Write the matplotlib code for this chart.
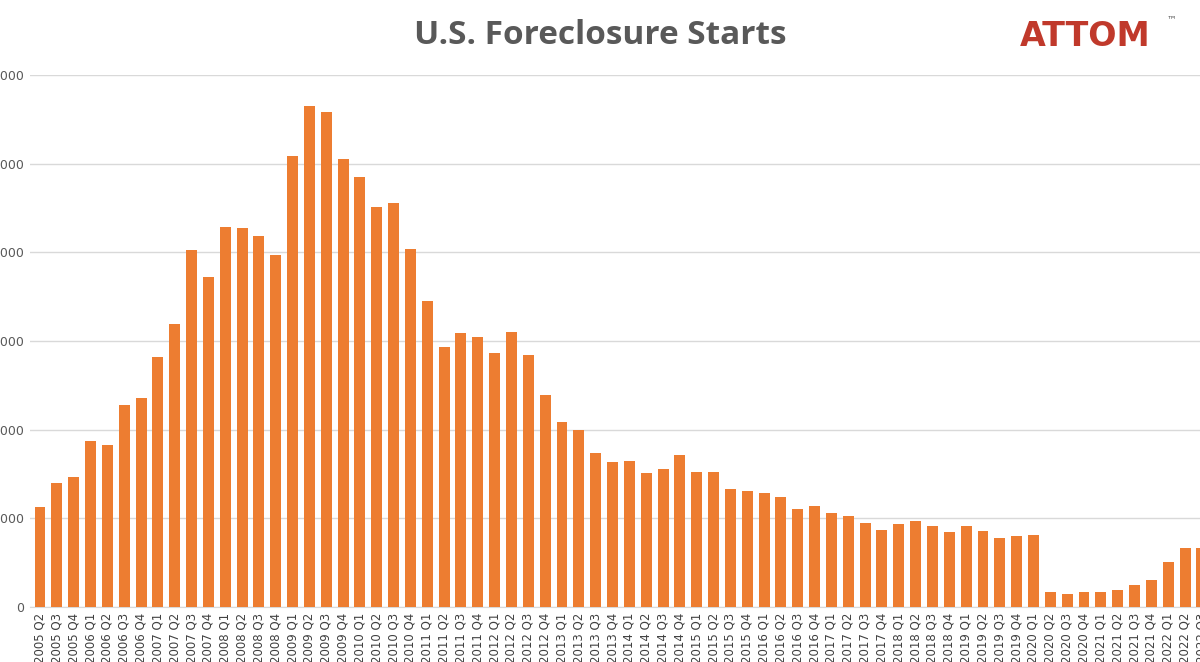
import matplotlib
matplotlib.use("Agg")
import matplotlib.pyplot as plt

years = list(range(2005, 2023))
quarters = []
for y in years:
    for q in (1, 2, 3, 4):
        quarters.append(f"{y} Q{q}")
quarters = quarters[1:71]  # 2005 Q2 .. 2022 Q3

values = [56.4, 69.9, 73.3, 93.6, 91.3, 113.9, 117.8, 140.9, 159.5, 201.2, 186.0,
          214.2, 213.6, 209.1, 198.4, 254.2, 282.4, 279.0, 252.5, 242.4, 225.5, 227.7,
          201.8, 172.5, 146.6, 154.5, 152.2, 143.2, 155.0, 142.1, 119.5, 104.3, 99.8,
          86.8, 81.7, 82.3, 75.5, 77.8, 85.7, 76.1, 76.1, 66.5, 65.4, 64.3, 62.0, 55.2,
          56.9, 53.0, 51.3, 47.4, 43.4, 46.8, 48.5, 45.7, 42.3, 45.7, 42.8, 38.9, 40.0,
          40.6, 8.5, 7.3, 8.5, 8.5, 9.6, 12.4, 15.2, 25.4, 33.3, 33.3]
values = [v * 1000 for v in values]
yticks = [0, 50000, 100000, 150000, 200000, 250000, 300000]

W, H = 1200, 662
fig = plt.figure(figsize=(W / 100, H / 100), dpi=100)
ax = fig.add_axes([30 / W, 1 - 607 / H, 1200 / W, (607 - 75) / H])
x = list(range(len(values)))
ax.bar(x, values, width=0.65, color="#ED7D31", zorder=3)
ax.set_xlim(-0.594, 70.67)
ax.set_ylim(0, 300000)
ax.set_yticks(yticks)
ax.set_yticklabels([f"{v:,}" for v in yticks], fontsize=9, color="#595959")
ax.grid(axis="y", color="#D9D9D9", linewidth=1, zorder=0)
ax.set_xticks(x)
ax.set_xticklabels(quarters, rotation=90, fontsize=8.5, color="#404040")
for s in ("top", "right", "left"):
    ax.spines[s].set_visible(False)
ax.spines["bottom"].set_color("#D9D9D9")
ax.tick_params(length=0, pad=4)

fig.text(0.5, 1 - 35 / H, "U.S. Foreclosure Starts", ha="center", va="center",
         fontsize=24, fontweight="bold", color="#595959", family="Open Sans")
fig.text(1020 / W, 1 - 37 / H, "ATTOM", ha="left", va="center", fontsize=24,
         fontweight="bold", color="#C0392B", family="DejaVu Sans")
fig.text(1167 / W, 1 - 22 / H, "™", fontsize=7, color="#555555")
fig.savefig("out.png", dpi=100)
